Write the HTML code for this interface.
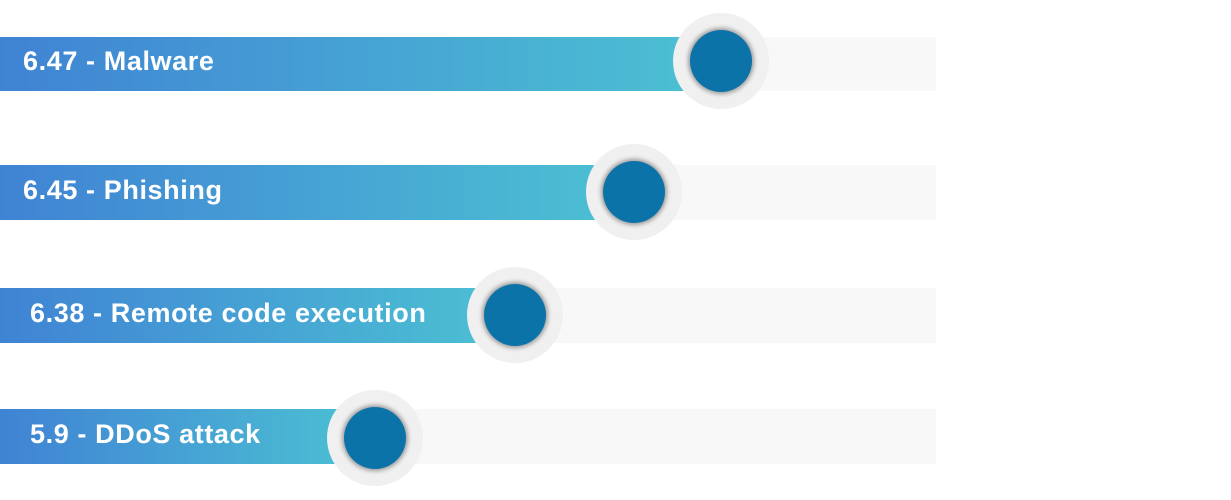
<!DOCTYPE html>
<html><head><style>
html,body{margin:0;padding:0;background:#fff;width:1231px;height:500px;overflow:hidden;position:relative;font-family:"Liberation Sans",sans-serif}
.bg{position:absolute;left:0;width:936px;background:#f8f8f8}
.bar{position:absolute;left:0;background:linear-gradient(90deg,#4083d4,#4cc2d3)}
.t{position:absolute;color:#fff;font-size:27px;font-weight:bold;white-space:nowrap;letter-spacing:0.6px}
.o{position:absolute;width:96px;height:96px;border-radius:50%;background:#f0f0f0}
.i{position:absolute;left:17px;top:17px;width:62px;height:62px;border-radius:50%;background:#0c73a9;box-shadow:0 0 4px 2px rgba(0,0,0,0.35)}
</style></head><body>
<div class="bg" style="top:37px;height:54px"></div>
<div class="bar" style="top:37px;height:54px;width:721px"></div>
<div class="t" style="left:23px;top:46px">6.47 - Malware</div>
<div class="o" style="left:673px;top:13px"><div class="i"></div></div>

<div class="bg" style="top:165px;height:55px"></div>
<div class="bar" style="top:165px;height:55px;width:634px"></div>
<div class="t" style="left:23px;top:175px">6.45 - Phishing</div>
<div class="o" style="left:586px;top:144px"><div class="i"></div></div>

<div class="bg" style="top:288px;height:55px"></div>
<div class="bar" style="top:288px;height:55px;width:515px"></div>
<div class="t" style="left:30px;top:298px">6.38 - Remote code execution</div>
<div class="o" style="left:467px;top:267px"><div class="i"></div></div>

<div class="bg" style="top:409px;height:55px"></div>
<div class="bar" style="top:409px;height:55px;width:375px"></div>
<div class="t" style="left:30px;top:419px">5.9 - DDoS attack</div>
<div class="o" style="left:327px;top:390px"><div class="i"></div></div>
</body></html>
